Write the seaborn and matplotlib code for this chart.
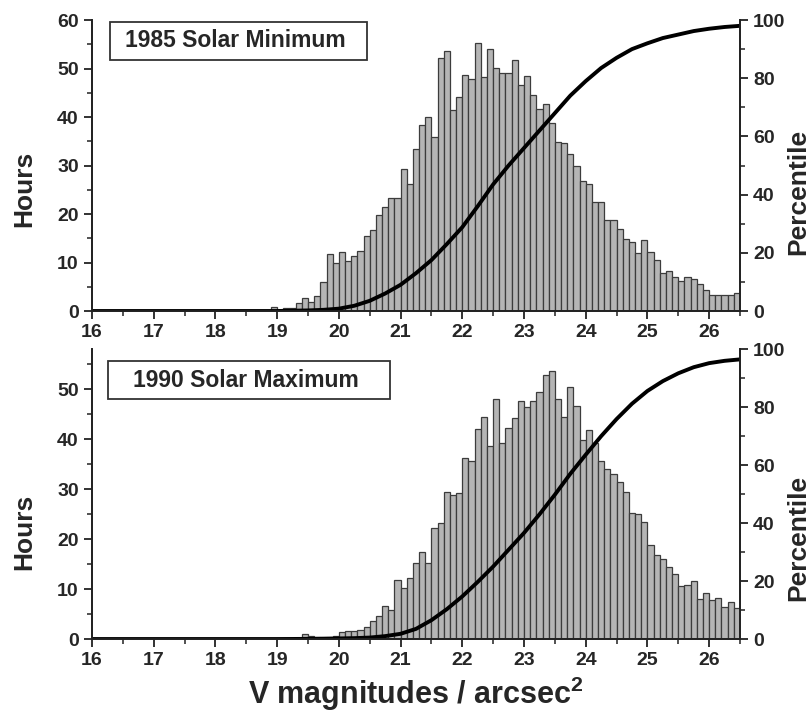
import numpy as np
import pandas as pd
import matplotlib
matplotlib.use("Agg")
import matplotlib.pyplot as plt
from matplotlib.patches import Rectangle
from matplotlib.ticker import MultipleLocator
import seaborn as sns

# Histogram data: hours per 0.1 mag bin (bin start given by first value)
min_first_bin = 18.9
min_hours = [0.8, 0.3, 0.7, 0.7, 1.6, 2.6, 1.8, 3.0, 6.0, 11.7,
             9.8, 12.1, 10.3, 11.4, 12.4, 15.4, 16.7, 19.7, 21.4, 23.4,
             23.4, 29.3, 26.1, 33.4, 38.4, 40.1, 35.8, 52.2, 53.6, 41.4,
             44.2, 48.7, 47.8, 55.3, 48.2, 54.0, 50.2, 49.0, 49.1, 51.8,
             46.6, 48.4, 44.6, 41.6, 42.7, 38.7, 34.8, 34.6, 32.3, 29.8,
             26.9, 26.1, 22.5, 22.5, 18.8, 18.8, 16.9, 14.8, 14.2, 11.9,
             14.6, 12.1, 10.6, 7.8, 8.2, 7.1, 6.2, 7.1, 6.6, 5.5,
             4.3, 3.4, 3.4, 3.2, 3.4, 3.7]

max_first_bin = 19.2
max_hours = [0.3, 0.3, 1.0, 0.7, 0.4, 0.5, 0.5, 0.6, 1.5, 1.6,
             1.7, 1.8, 2.5, 3.7, 4.6, 6.7, 5.9, 11.9, 10.2, 12.3,
             15.2, 17.4, 15.2, 22.3, 23.2, 29.4, 28.8, 29.2, 36.2, 35.7,
             42.1, 44.4, 38.7, 48.1, 39.2, 42.2, 44.3, 47.7, 46.4, 47.7,
             49.5, 52.9, 53.7, 48.1, 44.4, 50.5, 46.6, 39.9, 41.8, 39.2,
             35.6, 34.0, 33.0, 31.5, 29.5, 25.3, 25.0, 23.5, 18.8, 16.9,
             16.1, 14.5, 13.1, 10.6, 10.9, 11.6, 8.0, 9.2, 7.9, 8.2,
             6.5, 7.5, 6.2]

# Cumulative percentile curves
curve_mag = [16.0, 18.0, 19.0, 19.25, 19.5, 19.75, 20.0, 20.25, 20.5, 20.75,
             21.0, 21.25, 21.5, 21.75, 22.0, 22.25, 22.5, 22.75, 23.0, 23.25,
             23.5, 23.75, 24.0, 24.25, 24.5, 24.75, 25.0, 25.25, 25.5, 25.75,
             26.0, 26.25, 26.5]
min_pct = [0.0, 0.0, 0.0, 0.1, 0.2, 0.4, 0.8, 1.8, 3.5, 6.0,
           9.0, 13.0, 17.5, 23.0, 28.8, 36.0, 43.5, 50.0, 56.0, 62.0,
           68.0, 74.0, 79.0, 83.5, 87.0, 90.0, 92.0, 93.8, 95.0, 96.2,
           97.0, 97.6, 98.0]
max_pct = [0.0, 0.0, 0.0, 0.02, 0.05, 0.1, 0.2, 0.3, 0.5, 1.0,
           1.8, 3.5, 6.5, 10.3, 14.7, 19.7, 25.0, 30.8, 36.6, 43.0,
           49.8, 57.0, 63.6, 70.0, 75.9, 81.2, 85.6, 89.0, 91.7, 93.8,
           95.2, 96.0, 96.5]

panels = [
    ("1985 Solar Minimum", min_first_bin, min_hours, min_pct, 60),
    ("1990 Solar Maximum", max_first_bin, max_hours, max_pct, 58),
]

sns.set_theme(style="ticks")
plt.rcParams["font.family"] = ["Liberation Sans", "DejaVu Sans"]
plt.rcParams["font.weight"] = "bold"
plt.rcParams["mathtext.fontset"] = "custom"
plt.rcParams["mathtext.rm"] = "Liberation Sans:bold"
plt.rcParams["mathtext.bf"] = "Liberation Sans:bold"
plt.rcParams["mathtext.it"] = "Liberation Sans:bold"

fig = plt.figure(figsize=(8.09, 7.12), dpi=100)
rects = [[0.1137, 0.5632, 0.801, 0.4087], [0.1137, 0.1025, 0.801, 0.407]]
boxes = [(0.028, 0.863, 0.396, 0.130, 0.051, 0.928),
         (0.025, 0.828, 0.435, 0.131, 0.063, 0.893)]
hours_lbl_y = [0.42, 0.37]
pct_lbl_y = [0.41, 0.35]

for i, (title, first, hours, pct, ytop) in enumerate(panels):
    ax = fig.add_axes(rects[i])
    n = len(hours)
    edges = np.round(first + 0.1 * np.arange(n + 1), 2)
    df = pd.DataFrame({"mag": edges[:-1] + 0.05, "hours": hours})
    sns.histplot(data=df, x="mag", weights="hours", bins=list(edges), ax=ax,
                 color="#b5b5b5", edgecolor="#3c3c3c", linewidth=0.9, alpha=1)
    ax.set_xlim(16, 26.5)
    ax.set_ylim(0, ytop)
    ax.set_xticks(range(16, 27))
    ax.xaxis.set_minor_locator(MultipleLocator(0.5))
    ax.yaxis.set_major_locator(MultipleLocator(10))
    ax.yaxis.set_minor_locator(MultipleLocator(5))
    ax.set_ylabel("Hours", fontsize=19, fontweight="bold")
    ax.yaxis.set_label_coords(-0.086, hours_lbl_y[i])
    ax.set_xlabel("")

    ax2 = ax.twinx()
    sns.lineplot(x=curve_mag, y=pct, ax=ax2, color="black", linewidth=2.8)
    ax2.set_ylim(0, 100)
    ax2.yaxis.set_major_locator(MultipleLocator(20))
    ax2.yaxis.set_minor_locator(MultipleLocator(10))
    ax2.set_ylabel("Percentile", fontsize=19, fontweight="bold")
    ax2.yaxis.set_label_coords(1.071, pct_lbl_y[i])

    for a in (ax, ax2):
        a.spines["top"].set_visible(False)
        for s in a.spines.values():
            s.set_linewidth(1.3)
            s.set_color("#222222")
        a.tick_params(which="major", direction="out", length=6, width=1.3,
                      labelsize=14, color="#222222")
        a.tick_params(which="minor", direction="out", length=3.5, width=1.1,
                      color="#222222")
        for lab in a.get_xticklabels() + a.get_yticklabels():
            lab.set_fontweight("bold")

    bx, by, bw, bh, tx, ty = boxes[i]
    ax.add_patch(Rectangle((bx, by), bw, bh, transform=ax.transAxes,
                           fill=True, facecolor="white", edgecolor="#333333",
                           linewidth=1.3, zorder=5))
    ax.text(tx, ty, title, transform=ax.transAxes, fontsize=16.5,
            fontweight="bold", va="center", ha="left", zorder=6)

    if i == 1:
        ax.set_xlabel("V magnitudes / arcsec$^{2}$", fontsize=22,
                      fontweight="bold", labelpad=4)

fig.savefig("out.png", dpi=100)
